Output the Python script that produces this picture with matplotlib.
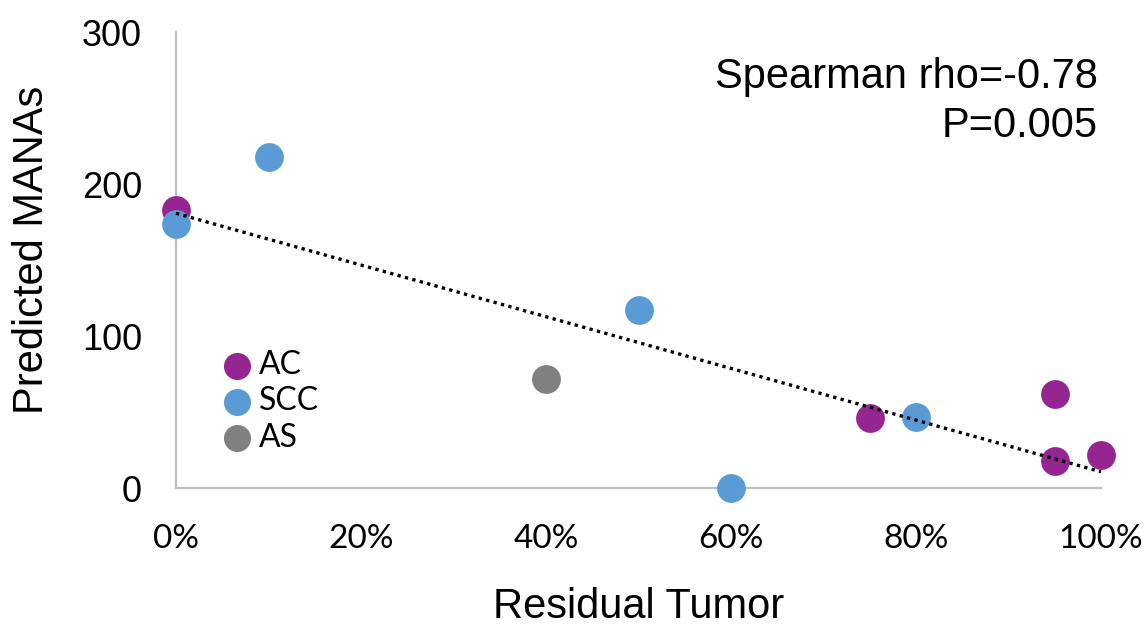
import numpy as np
import matplotlib
matplotlib.use("Agg")
import matplotlib.pyplot as plt
from matplotlib.ticker import FuncFormatter

# ---- data ----
groups = ["AC", "SCC", "AS"]
ac_x = [0.00, 0.75, 0.95, 0.95, 1.00]
ac_y = [183, 46, 62, 18, 22]
scc_x = [0.00, 0.10, 0.50, 0.60, 0.80]
scc_y = [174, 218, 117, 0, 47]
as_x = [0.40]
as_y = [72]
colors = {"AC": "#952590", "SCC": "#5B9BD5", "AS": "#808080"}
xticks = [0, 0.2, 0.4, 0.6, 0.8, 1.0]
yticks = [0, 100, 200, 300]
annot_lines = ["Spearman rho=-0.78", "P=0.005"]

fig = plt.figure(figsize=(11.47, 6.29), dpi=100)
ax = fig.add_axes([176/1147, 1 - 488/629, 925/1147, 456/629])

ms = 430
ax.scatter(ac_x, ac_y, s=ms, color=colors["AC"], label="AC", clip_on=False, zorder=3, linewidths=0)
ax.scatter(scc_x, scc_y, s=ms, color=colors["SCC"], label="SCC", clip_on=False, zorder=3, linewidths=0)
ax.scatter(as_x, as_y, s=ms, color=colors["AS"], label="AS", clip_on=False, zorder=3, linewidths=0)

all_x = np.array(ac_x + scc_x + as_x)
all_y = np.array(ac_y + scc_y + as_y)
slope, intercept = np.polyfit(all_x, all_y, 1)
lx = np.array([0.0, 1.0])
ax.plot(lx, slope * lx + intercept, color="black", lw=2.4,
        linestyle=(0, (1, 1.3)), zorder=4, clip_on=False)

ax.set_xlim(0, 1)
ax.set_ylim(0, 300)
ax.set_xticks(xticks)
ax.set_yticks(yticks)
ax.xaxis.set_major_formatter(FuncFormatter(lambda v, p: f"{v*100:.0f}%"))

for s in ["top", "right"]:
    ax.spines[s].set_visible(False)
for s in ["left", "bottom"]:
    ax.spines[s].set_color("#BFBFBF")
    ax.spines[s].set_linewidth(1.6)

ax.tick_params(axis="both", length=0)
ax.tick_params(axis="x", pad=26)
ax.tick_params(axis="y", pad=24.5)
for t in ax.get_xticklabels():
    t.set_fontfamily("Lato")
    t.set_fontsize(24)
for t in ax.get_yticklabels():
    t.set_fontfamily("Liberation Sans")
    t.set_fontsize(26)

ax.set_xlabel("Residual Tumor", fontfamily="Liberation Sans", fontsize=30, labelpad=24)
ax.set_ylabel("Predicted MANAs", fontfamily="Liberation Sans", fontsize=30)
ax.yaxis.set_label_coords(-0.134, 0.522)

ax.text(0.997, 263, annot_lines[0], ha="right", va="baseline",
        fontfamily="Liberation Sans", fontsize=30)
ax.text(0.997, 231, annot_lines[1], ha="right", va="baseline",
        fontfamily="Liberation Sans", fontsize=30)

leg = ax.legend(loc="center left", bbox_to_anchor=(0.045, 0.19), frameon=False,
                prop={"family": "Lato", "size": 23}, labelspacing=0.2,
                handletextpad=0.1, borderaxespad=0, borderpad=0, handlelength=1.2)
for h in leg.legend_handles:
    h.set_sizes([380])

fig.savefig("out.png", dpi=100)
